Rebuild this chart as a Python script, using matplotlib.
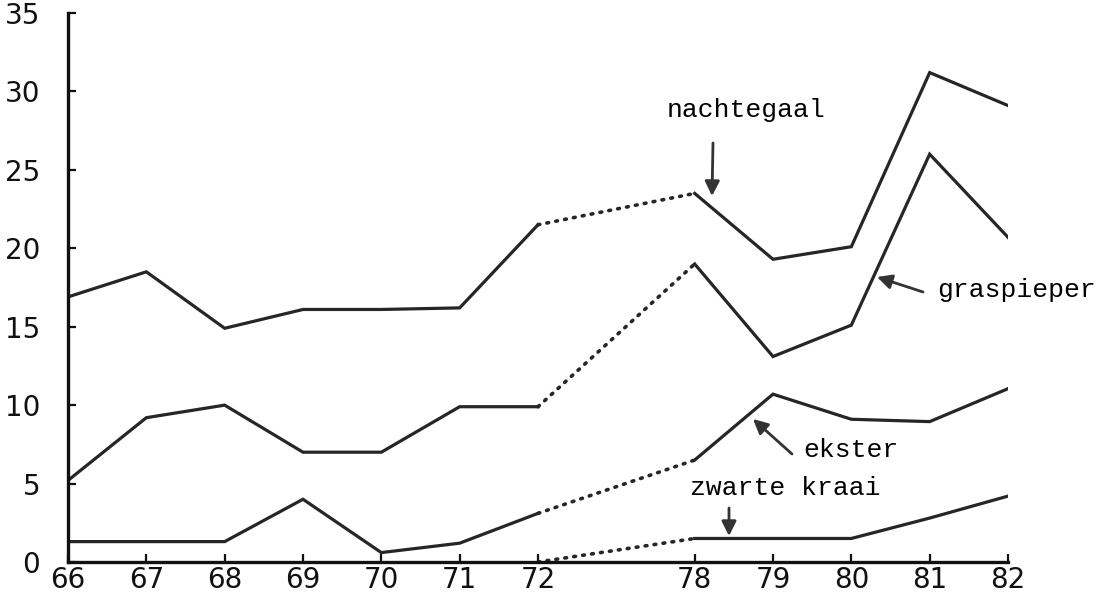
import numpy as np
import matplotlib
matplotlib.use("Agg")
import matplotlib.pyplot as plt

## counts per year, the 72 -> 78 step is the dotted gap
years = [66, 67, 68, 69, 70, 71, 72, 78, 79, 80, 81, 82]
nachtegaal = [16.9, 18.5, 14.9, 16.1, 16.1, 16.2, 21.5, 23.5, 19.3, 20.1, 31.2, 29.1]
graspieper = [5.2, 9.2, 10.0, 7.0, 7.0, 9.9, 9.9, 19.0, 13.1, 15.1, 26.0, 20.7]
ekster = [1.3, 1.3, 1.3, 4.0, 0.6, 1.2, 3.1, 6.5, 10.7, 9.1, 8.95, 11.05]
zwarte_kraai = [np.nan, np.nan, np.nan, np.nan, np.nan, np.nan, 0.0, 1.5, 1.5, 1.5, 2.8, 4.2]

yticks = [0, 5, 10, 15, 20, 25, 30, 35]
labels = ["nachtegaal", "graspieper", "ekster", "zwarte kraai"]


## x axis is squeezed between 72 and 78 (6 years drawn as 2 steps)
def fwd(x):
    x = np.asarray(x, dtype=float)
    return np.where(x <= 72, x - 66, np.where(x <= 78, 6 + (x - 72) / 3.0, x - 70))


def inv(p):
    p = np.asarray(p, dtype=float)
    return np.where(p <= 6, p + 66, np.where(p <= 8, 72 + (p - 6) * 3.0, p + 70))


col = "#262626"
fig = plt.figure(figsize=(11.01, 5.94), dpi=100)
ax = fig.add_axes([68 / 1101, 32 / 594, 940 / 1101, 549 / 594])
ax.set_xscale("function", functions=(fwd, inv))

yrs = np.array(years)
solid1 = yrs <= 72
solid2 = yrs >= 78
gap = (yrs == 72) | (yrs == 78)

for s in [nachtegaal, graspieper, ekster, zwarte_kraai]:
    s = np.array(s)
    ax.plot(yrs[solid1], s[solid1], color=col, lw=2.3, solid_joinstyle="miter")
    ax.plot(yrs[solid2], s[solid2], color=col, lw=2.3, solid_joinstyle="miter")
    ax.plot(yrs[gap], s[gap], color=col, lw=2.6, linestyle=(0, (0.5, 2.0)),
            dash_capstyle="round")

ax.set_xlim(66, 82)
ax.set_ylim(0, 35)
ax.set_xticks(years)
ax.set_xticklabels([str(y) for y in years])
ax.set_yticks(yticks)
ax.set_yticklabels([str(t) for t in yticks])
ax.xaxis.set_minor_locator(matplotlib.ticker.NullLocator())

for side in ["top", "right"]:
    ax.spines[side].set_visible(False)
for side in ["left", "bottom"]:
    ax.spines[side].set_linewidth(2.4)
    ax.spines[side].set_color("#111111")

ax.tick_params(axis="both", direction="in", length=6, width=1.6, color="#111111",
               labelsize=20, labelcolor="#111111")
ax.tick_params(axis="y", pad=20)
ax.tick_params(axis="x", pad=3)

## species names with arrows (positions in figure pixels)
mono = "Liberation Mono"
txt = [(667, 484), (937, 304), (803, 144), (690, 106)]
arr = [((713, 451), (712, 398)),
       ((923, 302), (877, 317)),
       ((792, 140), (753, 175)),
       ((729, 86), (729, 58))]
for lab, (tx, ty), (tail, head) in zip(labels, txt, arr):
    fig.text(tx / 1101, ty / 594, lab, family=mono, fontsize=19, color="black",
             ha="left", va="center")
    ax.annotate("", xy=head, xycoords="figure pixels", xytext=tail,
                textcoords="figure pixels",
                arrowprops=dict(arrowstyle="-|>", color="#333333", lw=2,
                                mutation_scale=22, shrinkA=0, shrinkB=0))

plt.savefig("out.png", dpi=100, facecolor="w")
